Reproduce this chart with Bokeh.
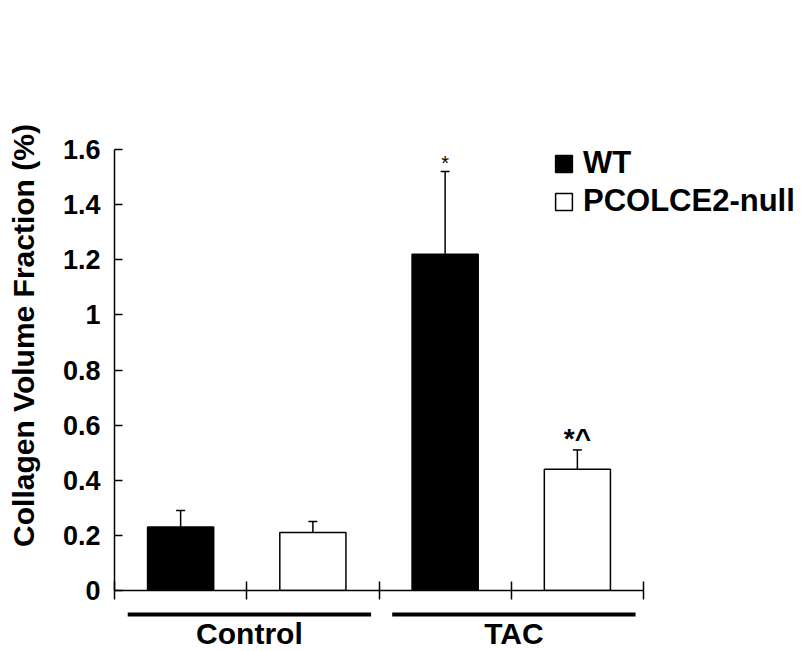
import math
from bokeh.plotting import figure
from bokeh.models import (ColumnDataSource, Range1d, FixedTicker, Whisker, TeeHead,
                          Legend, LegendItem)
from bokeh.layouts import column, row
from bokeh.core.properties import value
from bokeh.embed import file_html
from bokeh.resources import INLINE

# ---------------- data ----------------
groups = ["Control", "TAC"]
series = ["WT", "PCOLCE2-null"]
wt_mean = [0.23, 1.22]
wt_err = [0.06, 0.30]
null_mean = [0.21, 0.44]
null_err = [0.04, 0.07]
wt_marks = ["", "*"]
null_marks = ["", "*^"]
y_ticks = [0, 0.2, 0.4, 0.6, 0.8, 1.0, 1.2, 1.4, 1.6]
y_tick_labels = ["0", "0.2", "0.4", "0.6", "0.8", "1", "1.2", "1.4", "1.6"]
y_title = "Collagen Volume Fraction (%)"

FONT = "Liberation Sans"
W_TOTAL = 801
H_TOTAL = 651
W_TITLE = 50
W = W_TOTAL - W_TITLE
H_TOP = 608
H_BOT = H_TOTAL - H_TOP
FRAME_LEFT = 114 - W_TITLE
AXIS_LEN = 529          # pixel length of the drawn x axis
FRAME_TOP = 100         # frame top (px); the y axis itself is drawn from BASE_PX up to AXIS_TOP_PX
AXIS_TOP_PX = 149
BASE_PX = 590
n_s = len(series)
n_slots = len(groups) * n_s
x_end = n_slots * (W - FRAME_LEFT) / AXIS_LEN
y_end = y_ticks[-1] * (BASE_PX - FRAME_TOP) / (BASE_PX - AXIS_TOP_PX)


def make_source(means, errs, marks, s_idx):
    xs = [g * n_s + s_idx + 0.5 for g in range(len(groups))]
    return ColumnDataSource(dict(
        x=xs, top=means,
        upper=[m + e for m, e in zip(means, errs)],
        lower=[m - e for m, e in zip(means, errs)],
        mark=marks))


s_wt = make_source(wt_mean, wt_err, wt_marks, 0)
s_null = make_source(null_mean, null_err, null_marks, 1)

p = figure(width=W, height=H_TOP, title=None,
           x_range=Range1d(0, x_end), y_range=Range1d(y_ticks[0], y_end),
           output_backend="svg", toolbar_location=None,
           min_border_left=FRAME_LEFT, min_border_right=0,
           min_border_top=FRAME_TOP, min_border_bottom=H_TOP - BASE_PX)
p.outline_line_color = None
p.xgrid.visible = False
p.ygrid.visible = False

r_wt = p.vbar(x="x", top="top", bottom=0, width=0.5, source=s_wt,
              fill_color="black", line_color="black", line_width=1.5)
r_null = p.vbar(x="x", top="top", bottom=0, width=0.5, source=s_null,
                fill_color="white", line_color="black", line_width=1.5)

for s in (s_wt, s_null):
    p.add_layout(Whisker(source=s, base="x", upper="upper", lower="lower",
                         line_color="black", line_width=1.5,
                         upper_head=TeeHead(size=9, line_width=1.5, line_color="black"),
                         lower_head=TeeHead(size=9, line_width=1.5, line_color="black")))

p.text(x="x", y="upper", text="mark", source=s_wt, text_font=value(FONT),
       text_font_size="20px", text_align="center", text_baseline="alphabetic",
       y_offset=-9, text_color="black")
p.text(x="x", y="upper", text="mark", source=s_null, text_font=value(FONT),
       text_font_size="28px", text_font_style="bold", text_align="center",
       text_baseline="alphabetic", y_offset=-11, text_color="black")

# axes
ya = p.yaxis[0]
ya.ticker = FixedTicker(ticks=y_ticks)
ya.bounds = (y_ticks[0], y_ticks[-1])
ya.major_label_overrides = dict(zip(y_ticks, y_tick_labels))
ya.major_tick_in = 8
ya.major_tick_out = 0
ya.minor_tick_line_color = None
ya.axis_line_width = 1.5
ya.major_tick_line_width = 1.5
ya.axis_line_color = "black"
ya.major_tick_line_color = "black"
ya.major_label_text_font = FONT
ya.major_label_text_font_size = "27px"
ya.major_label_text_font_style = "bold"
ya.major_label_text_color = "black"
ya.major_label_standoff = 14

xa = p.xaxis[0]
xa.ticker = FixedTicker(ticks=list(range(n_slots + 1)))
xa.bounds = (0, n_slots)
xa.major_tick_in = 9
xa.major_tick_out = 9
xa.minor_tick_line_color = None
xa.axis_line_width = 1.5
xa.major_tick_line_width = 1.5
xa.axis_line_color = "black"
xa.major_tick_line_color = "black"
xa.major_label_text_font_size = "1px"
xa.major_label_text_alpha = 0
xa.major_label_standoff = 0

legend = Legend(items=[LegendItem(label=value(series[0]), renderers=[r_wt]),
                       LegendItem(label=value(series[1]), renderers=[r_null])],
                location=(439, 370), orientation="vertical",
                glyph_width=21, glyph_height=21, label_standoff=9,
                label_text_font=FONT, label_text_font_size="31px",
                label_text_font_style="bold", label_text_color="black",
                label_height=38, spacing=0,
                padding=0, margin=0, border_line_alpha=0, background_fill_alpha=0)
p.add_layout(legend)

# group brackets and labels below the axis
q = figure(width=W, height=H_BOT, title=None, x_range=p.x_range, y_range=Range1d(0, H_BOT),
           output_backend="svg", toolbar_location=None,
           x_axis_location=None, y_axis_location=None,
           min_border_left=FRAME_LEFT, min_border_right=0, min_border_top=0, min_border_bottom=0)
q.outline_line_color = None
q.xgrid.visible = False
q.ygrid.visible = False
gx0 = [g * n_s + 0.1 for g in range(len(groups))]
gx1 = [g * n_s + n_s - 0.06 for g in range(len(groups))]
gc = [(a + b) / 2 for a, b in zip(gx0, gx1)]
q.segment(x0=gx0, x1=gx1, y0=[37] * len(groups), y1=[37] * len(groups),
          line_width=4, line_color="black", line_cap="butt")
q.text(x=gc, y=[18] * len(groups), text=groups, text_font=value(FONT),
       text_font_size="30px", text_font_style="bold", text_align="center",
       text_baseline="alphabetic", text_color="black")

# y-axis title in its own narrow strip on the left
t = figure(width=W_TITLE, height=H_TOTAL, title=None,
           x_range=Range1d(0, W_TITLE), y_range=Range1d(0, H_TOTAL),
           output_backend="svg", toolbar_location=None,
           x_axis_location=None, y_axis_location=None,
           min_border_left=0, min_border_right=0, min_border_top=0, min_border_bottom=0)
t.outline_line_color = None
t.xgrid.visible = False
t.ygrid.visible = False
t.text(x=[23], y=[H_TOTAL - 335], text=[y_title], angle=math.pi / 2,
       text_font=value(FONT), text_font_size="30px", text_font_style="bold",
       text_align="center", text_baseline="middle", text_color="black")

layout = row(t, column(p, q, spacing=0), spacing=0)
open("out.html", "w").write(file_html(layout, INLINE))
